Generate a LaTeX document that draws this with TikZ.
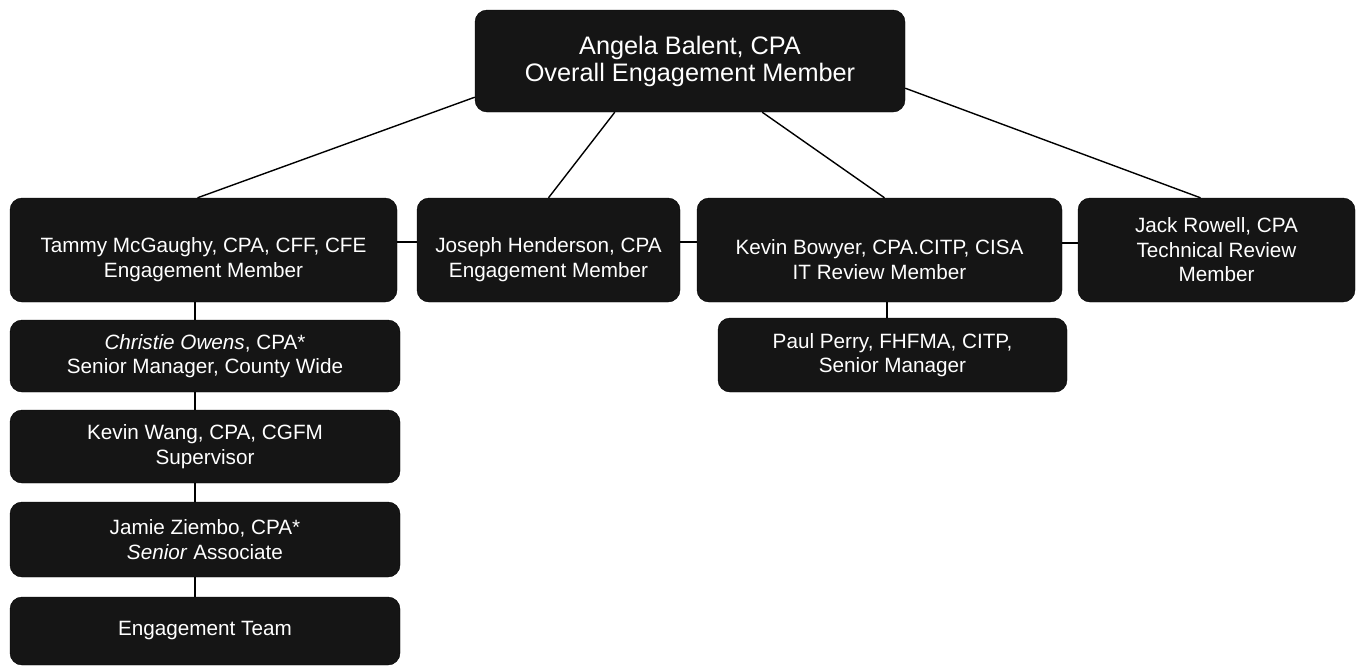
\documentclass[tikz,border=0pt]{standalone}
\usepackage{fontspec}
\setmainfont{Liberation Sans}
\definecolor{boxfill}{HTML}{151515}
\newcommand{\lowr}{\rule{0pt}{34pt}}
\begin{document}
\begin{tikzpicture}[x=1pt,y=-1pt,
  box/.style={draw=black, fill=boxfill, rounded corners=12pt, text=white,
    align=center, inner sep=0pt, font=\fontsize{20.7}{24.5}\selectfont},
  topbox/.style={box, font=\fontsize{25.3}{27}\selectfont},
  link/.style={draw=black, line width=1.4pt}]
\useasboundingbox (0,0) rectangle (1362,667);

\node[topbox, minimum width=430pt, minimum height=102pt] (top) at (690,61)
  {Angela Balent, CPA\\Overall Engagement Member};

\node[box, minimum width=387pt, minimum height=104pt] (tammy) at (203.5,250)
  {\lowr Tammy McGaughy, CPA, CFF, CFE\\Engagement Member};
\node[box, minimum width=263pt, minimum height=104pt] (joseph) at (548.5,250)
  {\lowr Joseph Henderson, CPA\\Engagement Member};
\node[box, minimum width=365pt, minimum height=104pt] (kevinb) at (879.5,250)
  {\lowr Kevin Bowyer, CPA.CITP, CISA\\IT Review Member};
\node[box, minimum width=277pt, minimum height=104pt] (jack) at (1216.5,250)
  {Jack Rowell, CPA\\Technical Review\\Member};

\node[box, minimum width=390pt, minimum height=72pt] (christie) at (205,356)
  {\textit{Christie Owens}, CPA*\\Senior Manager, County Wide};
\node[box, minimum width=390pt, minimum height=73pt] (kevinw) at (205,446.5)
  {Kevin Wang, CPA, CGFM\\Supervisor};
\node[box, minimum width=390pt, minimum height=75pt] (jamie) at (205,539.5)
  {Jamie Ziembo, CPA*\\\textit{Senior} Associate};
\node[box, minimum width=390pt, minimum height=68pt] (team) at (205,631)
  {Engagement Team};

\node[box, minimum width=349pt, minimum height=74pt] (paul) at (892.5,355)
  {Paul Perry, FHFMA, CITP,\\Senior Manager};

% connectors from the top box
\draw[link] ([yshift=15pt]top.south west) -- ([xshift=-6pt]tammy.north);
\draw[link] ([xshift=140pt]top.south west) -- (joseph.north);
\draw[link] ([xshift=-143pt]top.south east) -- ([xshift=5pt]kevinb.north);
\draw[link] ([yshift=24pt]top.south east) -- ([xshift=-16pt]jack.north);

% horizontal links on level 2
\draw[link] ([yshift=8pt]tammy.east) -- ([yshift=8pt]joseph.west);
\draw[link] ([yshift=8pt]joseph.east) -- ([yshift=8pt]kevinb.west);
\draw[link] ([yshift=7pt]kevinb.east) -- ([yshift=7pt]jack.west);

% vertical chain on the left
\draw[link] ([xshift=-8.5pt]tammy.south) -- ([xshift=-10pt]christie.north);
\draw[link] ([xshift=-10pt]christie.south) -- ([xshift=-10pt]kevinw.north);
\draw[link] ([xshift=-10pt]kevinw.south) -- ([xshift=-10pt]jamie.north);
\draw[link] ([xshift=-10pt]jamie.south) -- ([xshift=-10pt]team.north);

% Kevin Bowyer to Paul Perry
\draw[link] ([xshift=7.5pt]kevinb.south) -- ([xshift=-5.5pt]paul.north);
\end{tikzpicture}
\end{document}
